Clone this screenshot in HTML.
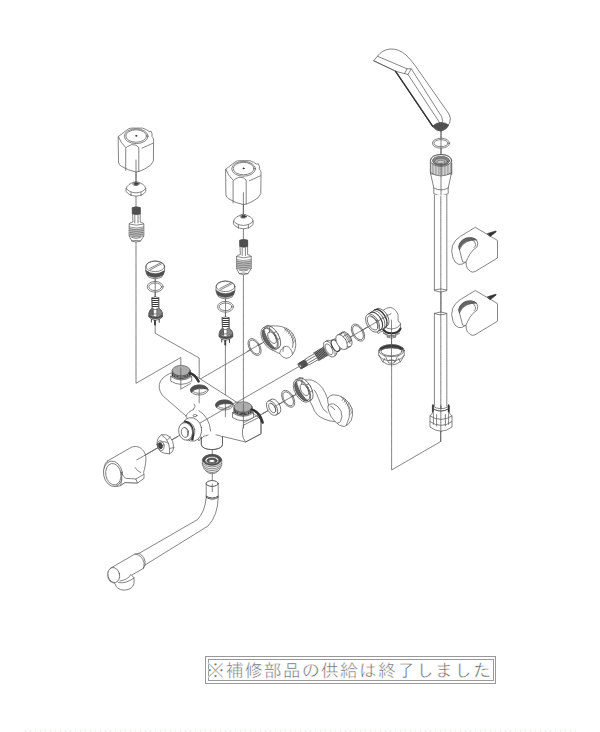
<!DOCTYPE html>
<html lang="ja"><head><meta charset="utf-8"><title>分解図</title>
<style>
html,body{margin:0;padding:0;background:#fff;}
body{width:600px;height:732px;overflow:hidden;position:relative;font-family:"Liberation Sans","IPAGothic","Noto Sans CJK JP",sans-serif;}
svg{position:absolute;left:0;top:0;display:block;}
svg *{vector-effect:none;}
.g path,.g ellipse,.g rect,.g circle,.g line,.g polyline{fill:none;stroke:#555;stroke-width:.72;stroke-linecap:round;stroke-linejoin:round;}
.g .w{fill:#fff;}
.g .d{fill:#444;stroke:#333;}
.g .dk{fill:#505050;stroke:#444;stroke-width:.6;}
.g .gr{fill:#adadad;stroke:#555;}
.g .k{fill:#333;stroke:#333;}
.g .k2{stroke:#333;stroke-width:.9;}
.g .th{stroke:#555;stroke-width:.6;}
.g .th2{stroke:#333;stroke-width:.8;}
.g .ax{stroke:#5a5a5a;stroke-width:.7;stroke-dasharray:1.3 .5;}
.g .thick{stroke:#333;stroke-width:1.6;}
.note{position:absolute;left:205.1px;top:656.4px;width:289px;height:25.85px;border:1px solid #999;box-sizing:content-box;}
.note i{position:absolute;left:1.5px;top:2.1px;right:1.5px;bottom:2.1px;border:1px solid #999;}
.note span{position:absolute;left:.5px;top:1.7px;width:290px;line-height:25px;font-size:18px;color:#666;-webkit-text-stroke:.45px #fff;white-space:nowrap;letter-spacing:1.04px;font-style:normal;}
.foot{display:none}
</style></head><body>
<svg class="g" width="600" height="732" viewBox="0 0 600 732">

<g id="axes">
<path class="ax" d="M136,160 V383.3 L180.8,357.5 V368"/>
<path class="ax" d="M155.2,262 V333.3 L199.2,358 V389"/>
<path class="ax" d="M243.4,192 V404"/>
<path class="ax" d="M225.4,282 V403"/>
<path class="ax" d="M196,381.5 L272,337.5"/>
<path class="ax" d="M136.7,460 L392,313"/>
<path class="ax" d="M256,417.6 L303,390.6"/>
<path class="ax" d="M212.3,438 V484"/>
<path class="ax" d="M391.6,318 V470 L440.6,441.6 V430"/>
<path class="ax" d="M441,126 V432"/>
</g>

<g transform="translate(0,0)">
<path class="w" d="M118.5,136.4 L128.6,128.8 Q130,128.2 132,128.1 L142.5,128.1 Q146.6,129.4 149.2,131.6 L151,131.2 Q152.6,133.6 152,136.6 Q153.6,137.8 153.6,140 L153.4,161 Q152,165.6 144.6,169 Q139.6,171.8 136,172 Q128.6,170.6 121.6,166.4 Q118.5,164.6 118.5,162.4 Z"/>
<ellipse cx="136.2" cy="136.2" rx="11.9" ry="7.4"/>
<ellipse cx="136.2" cy="136" rx="10.4" ry="6.2"/>
<path d="M125.7,170.4 L125.7,148.4 Q126.4,146.6 131.6,144.6 Q136.4,144.2 138.8,147.4 L138.8,171.4"/>
<path d="M118.5,136.8 Q120.4,142.6 125.7,147.6"/>
<path d="M141.9,148.2 L153,143.2"/>
<circle cx="136.2" cy="135.8" r="0.6" class="k"/>
<path class="ax" d="M136,160 V182"/>
</g>
<g transform="translate(0,0)">
<path class="w" d="M126.2,188.4 Q127,183.8 136,181.6 Q145,183.8 145.7,188.4 L145.7,191.6 Q143.6,195.4 136,196.2 Q128.4,195.4 126.2,191.6 Z"/>
<path d="M126.2,188.4 Q128.4,192.2 136,192.9 Q143.6,192.2 145.7,188.4"/>
<path d="M131,192.5 V195.6 M141,192.5 V195.6"/>
<ellipse cx="136" cy="183.8" rx="3.2" ry="1.8" class="w"/>
<ellipse cx="136" cy="183.8" rx="2" ry="1.1" class="d"/>
</g>
<g transform="translate(0,0)">
<path class="w" d="M132.6,207.6 Q136,206.2 140.2,207.6 L140.2,222 Q143.5,222.5 143.8,224 L143.8,236 L140.5,241 Q136,243.2 131.8,241 L129.2,236 L129.2,224 Q129.5,222.5 132.6,222 Z"/>
<path class="dk" d="M132.6,207.6 Q136,206.2 140.2,207.6 L140.2,214 Q136,215.4 132.6,214 Z"/>
<path d="M134.8,215 V223 M138,215 V223"/>
<path d="M129.2,224 Q136,226.5 143.8,224"/>
<path d="M129.4,227.4 Q136,229.8 143.6,227.4 L143.6,235.6 Q136,238 129.4,235.6 Z" style="fill:#c4c4c4;stroke:none"/>
<path class="th" d="M129.2,227 Q136,229 143.8,227 M129.2,228.8 Q136,230.8 143.8,228.8 M129.2,230.6 Q136,232.6 143.8,230.6 M129.2,232.4 Q136,234.4 143.8,232.4 M129.2,234.2 Q136,236.2 143.8,234.2 M129.2,236 Q136,238 143.8,236 "/>
<path d="M131.8,237.5 Q136,239.5 140.5,237.5 M131.8,241 Q136,239.6 140.5,241"/>
</g>
<g transform="translate(107.4,32.6)">
<path class="w" d="M118.5,136.4 L128.6,128.8 Q130,128.2 132,128.1 L142.5,128.1 Q146.6,129.4 149.2,131.6 L151,131.2 Q152.6,133.6 152,136.6 Q153.6,137.8 153.6,140 L153.4,161 Q152,165.6 144.6,169 Q139.6,171.8 136,172 Q128.6,170.6 121.6,166.4 Q118.5,164.6 118.5,162.4 Z"/>
<ellipse cx="136.2" cy="136.2" rx="11.9" ry="7.4"/>
<ellipse cx="136.2" cy="136" rx="10.4" ry="6.2"/>
<path d="M125.7,170.4 L125.7,148.4 Q126.4,146.6 131.6,144.6 Q136.4,144.2 138.8,147.4 L138.8,171.4"/>
<path d="M118.5,136.8 Q120.4,142.6 125.7,147.6"/>
<path d="M141.9,148.2 L153,143.2"/>
<circle cx="136.2" cy="135.8" r="0.6" class="k"/>
<path class="ax" d="M136,160 V182"/>
</g>
<g transform="translate(107.4,32.6)">
<path class="w" d="M126.2,188.4 Q127,183.8 136,181.6 Q145,183.8 145.7,188.4 L145.7,191.6 Q143.6,195.4 136,196.2 Q128.4,195.4 126.2,191.6 Z"/>
<path d="M126.2,188.4 Q128.4,192.2 136,192.9 Q143.6,192.2 145.7,188.4"/>
<path d="M131,192.5 V195.6 M141,192.5 V195.6"/>
<ellipse cx="136" cy="183.8" rx="3.2" ry="1.8" class="w"/>
<ellipse cx="136" cy="183.8" rx="2" ry="1.1" class="d"/>
</g>
<g transform="translate(107.4,32.6)">
<path class="w" d="M132.6,207.6 Q136,206.2 140.2,207.6 L140.2,222 Q143.5,222.5 143.8,224 L143.8,236 L140.5,241 Q136,243.2 131.8,241 L129.2,236 L129.2,224 Q129.5,222.5 132.6,222 Z"/>
<path class="dk" d="M132.6,207.6 Q136,206.2 140.2,207.6 L140.2,214 Q136,215.4 132.6,214 Z"/>
<path d="M134.8,215 V223 M138,215 V223"/>
<path d="M129.2,224 Q136,226.5 143.8,224"/>
<path d="M129.4,227.4 Q136,229.8 143.6,227.4 L143.6,235.6 Q136,238 129.4,235.6 Z" style="fill:#c4c4c4;stroke:none"/>
<path class="th" d="M129.2,227 Q136,229 143.8,227 M129.2,228.8 Q136,230.8 143.8,228.8 M129.2,230.6 Q136,232.6 143.8,230.6 M129.2,232.4 Q136,234.4 143.8,232.4 M129.2,234.2 Q136,236.2 143.8,234.2 M129.2,236 Q136,238 143.8,236 "/>
<path d="M131.8,237.5 Q136,239.5 140.5,237.5 M131.8,241 Q136,239.6 140.5,241"/>
</g>
<g transform="translate(0,0)">
<path class="w" d="M145.8,266.5 Q146.5,262 155,261 Q163.8,262 164.6,266.5 L164.6,270.5 L163,275 Q155,279 147.2,275 L145.8,270.5 Z"/>
<ellipse cx="155.2" cy="266.3" rx="9.4" ry="5.3"/>
<path d="M149.5,268.6 L160.6,262.8 M150.6,269.6 L161.6,263.8"/>
<path class="dk" d="M145.9,270.6 Q155,277 164.5,270.6 L163.2,274.8 Q155,279.2 147.2,274.8 Z"/>
<path d="M148,275.4 Q155,279.6 162.4,275.4 L161.8,277 Q155,280.6 148.6,277 Z" class="w"/>
</g>
<g><ellipse class="w" cx="155.2" cy="286.8" rx="8" ry="5.4"/><ellipse cx="155.2" cy="286.8" rx="6.4" ry="3.8000000000000003"/></g>
<path class="ax" d="M155.2,279 V298"/>
<g transform="translate(0,0)">
<path class="w" d="M152,297.6 Q155.3,296.2 158.8,297.6 L158.8,308 Q161.5,309.5 162.4,313 L162.4,317 Q160,320 155.4,320.4 Q151,320 149,317 L149,313 Q149.5,309.5 152,308 Z"/>
<path class="th2" d="M152,298.5 H158.8 M152,300.5 H158.8 M152,302.5 H158.8 M152,304.5 H158.8 M152,306.5 H158.8 " style="stroke-width:1;stroke:#3a3a3a;stroke-linecap:butt"/>
<path d="M152,297.6 V308 M158.8,297.6 V308"/>
<path class="dk" d="M149.2,312.4 Q150,309.6 152.4,308.4 L153.4,308.6 L153.4,315.4 Q151,315 149.2,314 Z" style="fill:#666"/>
<path class="dk" d="M157,308.6 L158.6,308.4 Q161,309.6 162.2,312.4 L162.2,314 Q160,315.2 157,315.6 Z" style="fill:#888"/>
<path class="dk" d="M149,314.5 Q155.5,319 162.4,314.5 L162.4,316.8 Q155.5,321.4 149,316.8 Z"/>
<rect x="153.6" y="309.5" width="3.2" height="4.4" class="w"/>
<path class="k2" d="M151.4,319.5 V322 M159.2,319.5 V322.4 M155.4,320.4 V325.2 M154.5,320.4 V324.8"/>
</g>
<g transform="translate(70.3,20)">
<path class="w" d="M145.8,266.5 Q146.5,262 155,261 Q163.8,262 164.6,266.5 L164.6,270.5 L163,275 Q155,279 147.2,275 L145.8,270.5 Z"/>
<ellipse cx="155.2" cy="266.3" rx="9.4" ry="5.3"/>
<path d="M149.5,268.6 L160.6,262.8 M150.6,269.6 L161.6,263.8"/>
<path class="dk" d="M145.9,270.6 Q155,277 164.5,270.6 L163.2,274.8 Q155,279.2 147.2,274.8 Z"/>
<path d="M148,275.4 Q155,279.6 162.4,275.4 L161.8,277 Q155,280.6 148.6,277 Z" class="w"/>
</g>
<g><ellipse class="w" cx="225.5" cy="306.8" rx="8" ry="5.4"/><ellipse cx="225.5" cy="306.8" rx="6.4" ry="3.8000000000000003"/></g>
<path class="ax" d="M225.5,299 V318"/>
<g transform="translate(70.3,20)">
<path class="w" d="M152,297.6 Q155.3,296.2 158.8,297.6 L158.8,308 Q161.5,309.5 162.4,313 L162.4,317 Q160,320 155.4,320.4 Q151,320 149,317 L149,313 Q149.5,309.5 152,308 Z"/>
<path class="th2" d="M152,298.5 H158.8 M152,300.5 H158.8 M152,302.5 H158.8 M152,304.5 H158.8 M152,306.5 H158.8 " style="stroke-width:1;stroke:#3a3a3a;stroke-linecap:butt"/>
<path d="M152,297.6 V308 M158.8,297.6 V308"/>
<path class="dk" d="M149.2,312.4 Q150,309.6 152.4,308.4 L153.4,308.6 L153.4,315.4 Q151,315 149.2,314 Z" style="fill:#666"/>
<path class="dk" d="M157,308.6 L158.6,308.4 Q161,309.6 162.2,312.4 L162.2,314 Q160,315.2 157,315.6 Z" style="fill:#888"/>
<path class="dk" d="M149,314.5 Q155.5,319 162.4,314.5 L162.4,316.8 Q155.5,321.4 149,316.8 Z"/>
<rect x="153.6" y="309.5" width="3.2" height="4.4" class="w"/>
<path class="k2" d="M151.4,319.5 V322 M159.2,319.5 V322.4 M155.4,320.4 V325.2 M154.5,320.4 V324.8"/>
</g>
<g id="body">
<path class="w" d="M192,373.6 L236,401.8 L258.8,417.5 Q261,419 261,422.5 L261,433.8 L245.6,442 L222.5,436.4 L222.5,444.6 A10.6,5 0 0 1 201.3,444.6 L201.3,437 L199,441 L186,416 L162.5,395.5 Q157,388 160.5,381 Q165,374.5 173,372.5 Z"/>
<path d="M243.8,425 L258.8,417.5 Q261,419 261,422.5 L261,433.8 L245.6,442 Q240,435 243.8,425 Z"/>
<path d="M243.8,422.6 L257.6,415.4"/>
<path d="M201.3,437 V444.6 A10.6,5 0 0 0 222.5,444.6 V436.4"/>
<path d="M201.3,438.5 Q203,435.6 208,435 M216,434.8 Q221,435.2 222.5,437.2"/>
<path d="M186,416 Q188,411.5 193.8,409.4"/>
<path d="M198.8,410.6 Q209.5,417 210.6,431"/>
<path d="M194,404 Q196.5,406.5 193.5,409"/>
<ellipse cx="195" cy="415.6" rx="1.9" ry="1.1"/>
</g>

<g>
<path class="w" d="M170.7,376.6 L170.7,381.1 Q181.2,387.6 191.7,381.1 L191.7,376.6 Z"/>
<path d="M170.7,376.6 Q181.2,383.6 191.7,376.6"/>
<path class="w" d="M172.2,370.6 L172.2,376.1 Q181.2,382.6 190.2,376.1 L190.2,370.6 Z"/>
<path class="thick" d="M172.2,371.8 Q181.2,378.2 190.2,371.8 M172.2,373.0 Q181.2,379.4 190.2,373.0 M172.2,374.20000000000005 Q181.2,380.6 190.2,374.20000000000005 M172.2,375.40000000000003 Q181.2,381.8 190.2,375.40000000000003 " style="stroke-width:1"/>
<ellipse class="gr" cx="181.2" cy="370.6" rx="9" ry="5.2"/>
</g>
<path class="thick" d="M189.6,373 Q195,374.5 198.6,381.4" style="stroke-width:2.5"/>
<g>
<ellipse class="w" cx="199.3" cy="390" rx="8.8" ry="5"/>
<path class="dk" d="M190.5,390.6 A8.8,5 0 0 1 208.10000000000002,389.4 Q204.9,388.4 198.70000000000002,388.8 Q192.9,389.4 191.70000000000002,392.4 Z"/>
<path d="M192.3,391.2 Q199.3,395.8 206.3,391.2"/>
</g>
<g>
<ellipse class="w" cx="224.4" cy="405" rx="8.8" ry="5"/>
<path class="dk" d="M215.6,405.6 A8.8,5 0 0 1 233.20000000000002,404.4 Q230.0,403.4 223.8,403.8 Q218.0,404.4 216.8,407.4 Z"/>
<path d="M217.4,406.2 Q224.4,410.8 231.4,406.2"/>
</g>
<g>
<path class="w" d="M232.5,413 L232.5,417.5 Q243,424 253.5,417.5 L253.5,413 Z"/>
<path d="M232.5,413 Q243,420 253.5,413"/>
<path class="w" d="M234,407 L234,412.5 Q243,419 252,412.5 L252,407 Z"/>
<path class="thick" d="M234,408.2 Q243,414.59999999999997 252,408.2 M234,409.4 Q243,415.79999999999995 252,409.4 M234,410.6 Q243,417.0 252,410.6 M234,411.8 Q243,418.2 252,411.8 " style="stroke-width:1"/>
<ellipse class="gr" cx="243" cy="407" rx="9" ry="5.2"/>
</g>
<path class="thick" d="M251.6,409.6 Q259.5,411.5 262.6,422.5" style="stroke-width:2.6"/>
<path class="ax" d="M199.2,389 V403 M225.4,403 V417 M243.4,404 V428 M180.8,368 V389 M199,423.6 L236,402.3"/>
<path class="ax" d="M181,389 L190.5,383.6"/>

<g id="frontport">
<ellipse class="w" cx="191.8" cy="429.4" rx="9.8" ry="11.9" transform="rotate(-12 191.8 429.4)"/>
<ellipse class="w" cx="187.2" cy="430.8" rx="7.6" ry="9.4" transform="rotate(-12 187.2 430.8)"/>
<path class="thick" d="M185.2,421.6 Q194.5,424 192.4,439.4" style="stroke-width:2.4"/>
<ellipse class="w" cx="185.6" cy="431.4" rx="6.9" ry="8.8" transform="rotate(-12 185.6 431.4)"/>
<ellipse cx="185" cy="432.4" rx="3.6" ry="5" transform="rotate(-12 185 432.4)"/>
<path d="M185,427.6 Q188.6,429 187.4,436"/>
</g>
<path class="ax" d="M178,436.4 L166,443.3"/>

<g id="nutL">
<path class="w" d="M157,444.5 Q156.6,438 161.5,434.8 Q166,433.6 170,437 Q173.6,441 173.8,447.5 Q173.4,452.4 169.5,453.8 Q164,454 160.5,451.5 Q157.6,449 157,444.5 Z"/>
<path d="M161.5,434.8 Q166.5,437.5 168.6,443.5 Q170,449.5 169.5,453.8"/>
<path d="M157,444.5 Q160.5,441 164.6,441.6 Q167.6,442.6 168.6,443.5"/>
<path d="M170,437 L167.5,440 M173.8,447.5 L169.8,448.5"/>
<ellipse cx="160.8" cy="445.6" rx="3.3" ry="5" transform="rotate(-12 160.8 445.6)"/><ellipse class="d" cx="160.4" cy="445.8" rx="1.9" ry="3" transform="rotate(-12 160.4 445.8)"/>
</g>

<g id="lever">
<path class="w" d="M107.5,461 L130.8,447.6 C138.6,443.6 146.8,451 145.9,460 C145.4,465 144.6,469 143.6,472.4 L144,474 L144,478.4 L137.5,483 L125,482.5 L120,485.8 Q114,488 108.5,482.5 Q103,474.5 104.2,467 Q105,462.5 107.5,461 Z"/>
<ellipse class="w" cx="113" cy="473.8" rx="9.4" ry="12.8" transform="rotate(-10 113 473.8)"/>
<ellipse cx="113.4" cy="474.2" rx="7.6" ry="10.8" transform="rotate(-10 113.4 474.2)"/>
<path class="w" d="M121.6,473 Q123,476.6 125.8,478.3 L135.8,479 L137.5,483 L125,482.5 L120.6,485.4 Q122.6,480 121.6,473 Z"/>
<path d="M135,467.5 Q137,471 140.8,472.6"/>
<path d="M135.8,479 L143.4,474.6"/>
<path class="ax" d="M136.7,460 L158,447.7"/>
</g>

<g id="aerator">
<path class="w" d="M202.4,460 Q203,455 212,454.3 Q221,455 221.8,460 L221.8,464.5 Q220.5,469 218.6,470.6 Q216,473.6 212,473.8 Q208,473.6 205.6,470.6 Q203.4,469 202.4,464.5 Z"/>
<ellipse cx="212" cy="460" rx="9.4" ry="5.4" class="dk"/>
<ellipse cx="212" cy="460.4" rx="7" ry="3.8" class="w"/>
<ellipse cx="212" cy="460.8" rx="5.2" ry="2.8" class="dk"/>
<ellipse cx="212" cy="461" rx="3.2" ry="1.6" class="w"/>
<path d="M202.6,463.6 Q212,470.6 221.6,463.6 M203,465.6 Q212,472.4 221.2,465.6 M204.4,468 Q212,473.6 219.8,468 M205.8,470.6 Q212,474.6 218.4,470.6"/>
</g>

<g id="spout">
<path class="w" d="M206.2,483.5 L206.2,497.6 Q205,511.6 197.5,519.6 L139,553.4 L135,554 L110.8,568 Q106.8,572 108,578 Q109.5,582 112.6,582.6 L115,583.4 Q116,589.5 124,590.2 Q133,589.5 134,583.2 L134,577.8 L131.6,575.2 L143.4,568.4 L145,565 L208,526 Q217.8,515.6 218.2,497.6 L218.2,483.5 Q212.2,487.4 206.2,483.5 Z"/>
<ellipse class="w" cx="212.2" cy="483.5" rx="6" ry="2.9" style="stroke:#444;stroke-width:.9"/>
<path d="M206.2,496.2 Q212.2,500 218.2,496.2 M206.2,497.4 Q212.2,501.2 218.2,497.4" style="stroke:#444;stroke-width:.9"/>
<path d="M135,554 Q142,555 144,562.5 Q144.4,566 143.4,568.4"/>
<path d="M139,553.4 Q145.6,556 145.2,565"/>
<ellipse class="w" cx="113.8" cy="575" rx="5.8" ry="7.6" transform="rotate(-14 113.8 575)"/>
<path d="M120,581 Q128,580 131,574.4"/>
<path d="M118.6,582.6 Q126,584 134,578"/>
<path class="ax" d="M212.3,484 V491.6"/>
</g>

<g id="elbowU">
<path class="w" d="M272,325.8 L277.5,326 Q286.6,326.6 292.4,333 Q296.4,338.6 295.8,345.4 Q295.2,351 292.6,354.4 Q290,358.4 286,358.4 Q282,357.4 279.6,353.6 L272,350 Z"/>
<path d="M279.6,353.6 Q280.6,347.4 286.4,346.2 Q291.6,347.4 292.6,354.4"/>
<path d="M283.8,346.8 Q282.6,349 283,351.4"/>
<path class="th" d="M286.6,328 l-1.6,3 M288.4,329.2 l-1.6,3 M290,330.8 l-1.7,3.1 M291.6,332.6 l-1.8,3.2 M293,334.8 l-1.8,3.2 M294.2,337.2 l-1.8,3.2 M295,340 l-1.8,3.2"/>
<path d="M284.4,328.6 Q290.6,332 292.6,338.6 Q293.6,343 292.6,347.4"/>
</g>

<g transform="rotate(-30 269.6 338.6)">
<path class="w" d="M269.6,326.0 L273.6,326.0 Q278.20000000000005,329.6 279.0,338.6 Q278.20000000000005,347.6 273.6,351.20000000000005 L269.6,351.20000000000005 Z"/>
<ellipse class="w" cx="273.0" cy="338.6" rx="6.2" ry="12.4"/>
<ellipse class="w" cx="269.6" cy="338.6" rx="7" ry="12.6"/>
<ellipse cx="270.0" cy="338.6" rx="5.9" ry="11.2"/>
<path class="dk" d="M270.0,327.40000000000003 A5.9,11.2 0 0 0 270.0,349.8 A2.4,11.2 0 0 1 270.0,327.40000000000003 Z" style="fill:#6c6c6c"/>
<path class="th" d="M266.40000000000003,329.8 l2.6,0.5 M265.90000000000003,332.0 l2.6,0.5 M265.40000000000003,334.2 l2.6,0.5 M264.90000000000003,336.40000000000003 l2.6,0.5 M264.40000000000003,338.6 l2.6,0.5 M264.90000000000003,340.8 l2.6,0.5 M265.40000000000003,343.0 l2.6,0.5 M265.90000000000003,345.2 l2.6,0.5 M266.40000000000003,347.40000000000003 l2.6,0.5 "/>
<ellipse cx="272.20000000000005" cy="339.0" rx="3.4" ry="6.4"/>
<path d="M272.6,333.0 L275.20000000000005,329.0 M275.0,341.6 L276.20000000000005,342.0"/>
<path d="M274.0,326.6 L277.0,328.20000000000005 M276.6,335.6 L279.0,336.0 M276.6,343.6 L278.6,343.6"/>
</g>
<g transform="rotate(-30 254.6 347)"><ellipse class="w" cx="254.6" cy="347" rx="5.4" ry="9.3"/><ellipse cx="254.6" cy="347" rx="4.28" ry="7.700000000000001"/></g>
<path class="ax" d="M247,351.6 L262.5,342.7"/>
<g id="spipe">
<path class="w" d="M303,379.8 L311.9,380 Q317.5,381.6 322.5,388.1 Q325.4,392.6 327.6,398.6 Q329,395.6 333,394.8 Q338.6,394.4 343.8,398.1 Q349.6,402 352.2,408.8 Q353.4,414.6 351.4,420 Q348.6,425.6 344,426.6 Q339.6,426.4 335,421.6 Q330,421.4 325,419.4 Q320.6,417.6 317.5,415 Q314,411.4 312.4,406 L309.4,400 Z"/>
<path d="M314.4,390 Q317,393.6 318.6,398.6 Q320.6,404.6 323,408.4 Q325,411.4 327.2,412.6"/>
<path d="M328,406 Q329,403.4 333.6,403.8 Q338.6,406 341,411 Q343,417 340.6,421.4 Q339.4,423 337.6,423"/>
<path d="M335,421.6 Q330.4,417 328.6,411 Q327.8,408 328,406"/>
<path d="M330.6,406.2 Q333.4,407 334.6,409.6"/>
<path d="M327.6,398.6 Q327.4,402 328.6,405"/>
<path class="th" d="M343.6,398 l-1.4,2.6 M345.6,399.4 l-1.5,2.8 M347.4,401.2 l-1.6,3 M349,403.2 l-1.6,3 M350.4,405.6 l-1.7,3.2 M351.4,408.4 l-1.7,3.2 M352,411.4 l-1.6,3"/>
<path d="M341,396.6 Q347.4,401.6 349.4,409.4 Q350.6,417.4 346.6,424.6"/>
</g>

<g transform="rotate(-30 302 390.8)">
<path class="w" d="M302,378.2 L306,378.2 Q310.6,381.8 311.4,390.8 Q310.6,399.8 306,403.40000000000003 L302,403.40000000000003 Z"/>
<ellipse class="w" cx="305.4" cy="390.8" rx="6.2" ry="12.4"/>
<ellipse class="w" cx="302" cy="390.8" rx="7" ry="12.6"/>
<ellipse cx="302.4" cy="390.8" rx="5.9" ry="11.2"/>
<path class="dk" d="M302.4,379.6 A5.9,11.2 0 0 0 302.4,402.0 A2.4,11.2 0 0 1 302.4,379.6 Z" style="fill:#6c6c6c"/>
<path class="th" d="M298.8,382.0 l2.6,0.5 M298.3,384.2 l2.6,0.5 M297.8,386.4 l2.6,0.5 M297.3,388.6 l2.6,0.5 M296.8,390.8 l2.6,0.5 M297.3,393.0 l2.6,0.5 M297.8,395.2 l2.6,0.5 M298.3,397.4 l2.6,0.5 M298.8,399.6 l2.6,0.5 "/>
<ellipse cx="304.6" cy="391.2" rx="3.4" ry="6.4"/>
<path d="M305,385.2 L307.6,381.2 M307.4,393.8 L308.6,394.2"/>
<path d="M306.4,378.8 L309.4,380.40000000000003 M309,387.8 L311.4,388.2 M309,395.8 L311,395.8"/>
</g>
<g transform="rotate(-30 288.2 398.8)"><ellipse class="w" cx="288.2" cy="398.8" rx="5.4" ry="9.3"/><ellipse cx="288.2" cy="398.8" rx="4.28" ry="7.700000000000001"/></g>
<g transform="rotate(-30 273.3 407.4)">
<path class="w" d="M271.90000000000003,399.4 H275.5 V415.4 H271.90000000000003 Z" style="stroke:none"/>
<ellipse class="w" cx="275.5" cy="407.4" rx="4.6" ry="8"/>
<path d="M271.90000000000003,399.4 H275.5 M271.90000000000003,415.4 H275.5"/>
<ellipse class="w" cx="271.90000000000003" cy="407.4" rx="4.6" ry="8"/>
<ellipse cx="272.1" cy="407.4" rx="2.9" ry="5.2"/>
<path d="M273.5,411.79999999999995 A2.9,5.2 0 0 0 273.5,402.79999999999995"/>
</g>
<path class="ax" d="M262,413.9 L268,410.5"/>
<path class="ax" d="M277,405.2 L296,394.3"/>
<g id="dspindle" transform="rotate(-30 299.6 366.3)">
<path class="w" d="M299.6,363.3 H308.1 V362.8 H318.6 V361.8 H331.6 V370.8 H318.6 V369.8 H308.1 V369.3 H299.6 Z"/>
<rect class="dk" x="299.6" y="363.3" width="8" height="6" rx="1.4"/>
<ellipse cx="300.40000000000003" cy="366.3" rx="0.9" ry="1.6" class="w"/>
<path d="M308.1,365.1 H318.6 M308.1,367.7 H318.6"/>
<rect x="318.6" y="361.8" width="13" height="9" style="fill:#999;stroke:none"/><path class="th2" d="M319.1,361.8 l0.8,9 M320.5,361.8 l0.8,9 M321.90000000000003,361.8 l0.8,9 M323.3,361.8 l0.8,9 M324.70000000000005,361.8 l0.8,9 M326.1,361.8 l0.8,9 M327.5,361.8 l0.8,9 M328.90000000000003,361.8 l0.8,9 M330.3,361.8 l0.8,9 " style="stroke-width:.8"/>
<ellipse class="w" cx="337.20000000000005" cy="366.3" rx="4" ry="7.4"/>
<ellipse class="w" cx="335.8" cy="366.3" rx="4.5" ry="8.8"/>
<ellipse class="w" cx="334.0" cy="366.3" rx="4.5" ry="8.8"/>
<ellipse cx="333.6" cy="366.3" rx="3" ry="6"/>
<path class="w" d="M337.6,359.90000000000003 H342.6 V372.7 H337.6 Z" style="stroke:none"/>
<ellipse class="w" cx="343.0" cy="366.3" rx="3.4" ry="6.4"/>
<ellipse class="w" cx="341.0" cy="366.3" rx="3.4" ry="6.4" style="stroke-width:1.3;stroke:#333"/>
<path class="w" d="M348.1,358.1 H353.6 V374.5 H348.1 Z" style="stroke:none"/>
<ellipse class="w" cx="353.6" cy="366.3" rx="4.7" ry="8.2"/>
<path d="M348.1,358.1 H353.6 M348.1,374.5 H353.6"/>
<ellipse class="w" cx="348.1" cy="366.3" rx="4.7" ry="8.2"/>
<path d="M352.20000000000005,362.3 H357.6 M352.40000000000003,369.5 H357.8 M350.20000000000005,358.90000000000003 H355.6"/>
<path class="th" d="M354.6,359.7 v12 M356.0,360.90000000000003 v10 M357.20000000000005,362.7 v7"/>
</g>

<g transform="rotate(-30 358 332.6)"><ellipse class="w" cx="358" cy="332.6" rx="5.5" ry="9.4"/><ellipse cx="358" cy="332.6" rx="4.38" ry="7.800000000000001"/></g>
<path class="ax" d="M351,336.7 L365.5,328.3"/>
<g id="elbowR">
<path class="w" d="M383.6,310 Q386.6,307.6 390.4,307.4 Q395.6,308.4 398,314.6 L398.2,321.4 Q400.6,322.4 400.6,324 L400.6,330 Q399,333.6 395.6,334.4 L395.6,337 Q391.4,339.4 387.2,337 L387.2,334.6 Q383.4,333.6 382.4,331 L378,333.6 L371,321 Z"/>
<path d="M382.4,324 Q384,328.4 391.4,329 Q398.6,328.4 400.6,324"/>
<path class="thick" d="M382.6,328.4 Q385,333 391.6,333.4 Q398.4,333 400.4,328.6" style="stroke-width:2.2"/>
<path d="M383.4,333.4 Q386.4,335.6 391.6,335.8 Q396.6,335.6 399.6,333.4"/>
<path d="M387.2,337 Q391.4,334.8 395.6,337"/>
<path class="ax" d="M391.5,320 V338"/>
</g>
<g transform="rotate(-30 372.6 323)">
<path class="w" d="M372.6,313 H386 V333 H372.6 Z" style="stroke:none"/>
<path d="M372.6,313 H385 M372.6,333 H381"/>
<ellipse class="w" cx="383.4" cy="323" rx="5.8" ry="10"/>
<ellipse class="w" cx="381" cy="323" rx="5.8" ry="10.4" style="stroke-width:1.3;stroke:#333"/>
<ellipse class="w" cx="378.6" cy="323" rx="5.8" ry="10.4"/>
<ellipse class="w" cx="376" cy="323" rx="5.8" ry="10" style="stroke-width:1.1;stroke:#444"/>
<ellipse class="w" cx="372.6" cy="323" rx="5.8" ry="10"/>
<ellipse cx="372.8" cy="323" rx="4.4" ry="7.8"/>
<path d="M374.4,330 A4.4,7.8 0 0 0 374.4,316.4"/>
</g>

<path class="ax" d="M365.5,328.3 L391,313.6"/>
<g id="nutR">
<path class="w" d="M378.8,350.6 A12.7,6 0 0 1 404.2,350.6 L404.2,355.4 L400.6,361.6 Q396,365 391.5,365 Q387,365 382.6,361.6 L378.8,355.4 Z"/>
<ellipse cx="391.5" cy="350.6" rx="12.7" ry="6"/>
<path class="dk" d="M379.6,350.4 Q383,345.4 391.5,345.2 Q400,345.4 403.4,350.4 Q398,347.9 391.5,348 Q385,347.9 379.6,350.4 Z"/><path class="thick" d="M380.6,348.6 Q385,345.8 391.5,345.8 Q398,345.8 402.4,348.6" style="stroke-width:1.5"/>
<ellipse cx="391.5" cy="351.4" rx="10.4" ry="4.4"/>
<path d="M378.8,355.4 Q381.6,359.8 387.4,360.6 L395.6,360.6 Q401.6,359.8 404.2,355.4"/>
<path d="M387.4,360.4 Q386.4,357 384.4,355.6 M395.6,360.4 Q396.6,357 398.6,355.6"/>
<path d="M383,362 L384.6,358.6 M400.4,362 L398.6,358.6"/>
<ellipse cx="391.5" cy="361.6" rx="3.6" ry="1.8"/>
<path class="ax" d="M391.5,338 V366"/>
</g>

<g id="shower">
<path class="w" d="M373.8,60.6 L377.5,56.2 Q382,50 390,49 Q399,48.6 406,55 Q411,60 415,65.4 L449,114 Q451.6,118.6 449.6,123 Q447,128 441,131 Q436,131 432.6,126.6 L395.6,71.3 Z"/>
<path d="M377.5,56.2 L407,68.8 L411.3,68.8 L408,74.5 L395.6,71.3 L373.8,60.6"/>
<path d="M407,68.8 L404.6,73.6"/>
<path d="M411.3,68.8 L441.6,116.6 Q444,121 441.4,124.6"/>
<path d="M408,74.5 L439.6,122.6"/>
<path class="thick" d="M395.6,71.3 L432.8,126.4" style="stroke-width:1.5"/>
<path class="dk" d="M432.8,126 Q436,122.6 441,122.4 Q446,122.6 448.6,125 Q447,129.6 441,131 Q435.6,130.6 432.8,126 Z"/>
<path d="M436,128.4 Q441,131.4 446.4,128"/>
</g>

<g><ellipse class="w" cx="441" cy="143.2" rx="8.6" ry="5"/><ellipse cx="441" cy="143.2" rx="7.1" ry="3.5"/></g>
<path class="ax" d="M441,131 V155"/>
<g id="hosenutT">
<path class="w" d="M430.4,160.4 Q431,155 441,154.4 Q451,155 451.6,160.4 L451.6,172.6 L448.2,188 L448.2,193.6 Q441,197.6 433.8,193.6 L433.8,188 L430.4,172.6 Z"/>
<ellipse cx="441" cy="160.4" rx="10.6" ry="6"/>
<ellipse cx="441" cy="160.8" rx="8.6" ry="4.6" class="dk" style="fill:#8a8a8a"/>
<ellipse cx="441" cy="161.4" rx="6.4" ry="3.2" style="fill:#a8a8a8;stroke:#555;stroke-width:.6"/>
<ellipse cx="441" cy="162" rx="3.6" ry="1.7" style="fill:#c8c8c8;stroke:#666;stroke-width:.5"/>
<path class="th" d="M430.8,163.4 v11 M432.3,163.5 v11 M433.8,163.6 v11 M435.3,163.7 v11 M436.8,163.8 v11 M438.3,163.9 v11 M439.8,164.0 v11 M441.3,164.1 v11 M442.8,164.0 v11 M444.3,163.9 v11 M445.8,163.8 v11 M447.3,163.7 v11 M448.8,163.6 v11 M450.3,163.5 v11 M451.8,163.4 v11 "/>
<path d="M430.4,172.6 Q441,179.6 451.6,172.6"/>
<path d="M433.8,188 Q441,192 448.2,188"/>
<path class="ax" d="M441,163 V196"/>
</g>

<g id="hose">
<path class="w" d="M434.4,195 V290.6 Q440.6,293.6 446.8,290.6 V195" />
<path d="M434.4,290 Q440.6,287.6 446.8,290"/>
<path class="w" d="M434.4,406 V313.4 Q440.6,310.6 446.8,313.4 V406"/>
<path d="M434.4,313.4 Q440.6,316.4 446.8,313.4"/>
<path class="ax" d="M440.8,196 V430"/>
</g>

<g id="hosenutB">
<path class="w" d="M432.4,406 L432.4,413 L430,416 L430,427 Q441,435.4 452,427 L452,416 L449.4,413 L449.4,406 Q441,411.6 432.4,406 Z"/>
<path class="thick" d="M433,405 V411.6 M448.6,405 V411.6" style="stroke-width:1.6"/>
<path class="k2" d="M433.6,409 Q441,413.4 448.2,409"/>
<path d="M430,416 Q441,423 452,416"/>
<path d="M430,421.6 Q441,429.4 452,421.6"/>
<path d="M433.4,412.6 V424.4 M436.6,414.4 V426 M445.4,414.4 V426 M448.6,412.6 V424.4"/>
<path class="ax" d="M440.8,405 V441.6"/>
</g>

<g transform="translate(0,0)">
<path class="w" d="M475.6,227.5 L496.9,240 Q497.6,240.6 497.5,242 L497.5,258 L475,271.6 Q472.6,272.8 470.4,271.4 L467.4,268.6 Q466,266 466,262 Q462,265 458.6,264.4 Q454.6,263 453,258 Q450.6,251 452.6,245.4 Q455,239.6 460,236.6 Z"/>
<path class="w" d="M458.8,246.4 Q459.6,240.6 466,238.2 Q473,236.6 476.6,240 Q478.8,243 477,247 Q472.6,249.6 470,254 Q467,259 466,262 Q465,262.6 463,262 Z"/>
<path class="dk" d="M458.8,246.4 Q459.6,240.6 466,238.2 Q473,236.6 476.6,240 Q472,239.6 467,241.6 Q461.6,244 459.6,249.6 Z" style="fill:#666"/>
<path d="M471.6,239.4 Q475.4,241 475.6,244.6 Q475.4,246.6 474,247.6"/>
<path class="k" d="M487.6,233.6 L495.8,231 L496.2,231.8 L490.2,236.4 Z"/>
</g>
<g transform="translate(0,63.2)">
<path class="w" d="M475.6,227.5 L496.9,240 Q497.6,240.6 497.5,242 L497.5,258 L475,271.6 Q472.6,272.8 470.4,271.4 L467.4,268.6 Q466,266 466,262 Q462,265 458.6,264.4 Q454.6,263 453,258 Q450.6,251 452.6,245.4 Q455,239.6 460,236.6 Z"/>
<path class="w" d="M458.8,246.4 Q459.6,240.6 466,238.2 Q473,236.6 476.6,240 Q478.8,243 477,247 Q472.6,249.6 470,254 Q467,259 466,262 Q465,262.6 463,262 Z"/>
<path class="dk" d="M458.8,246.4 Q459.6,240.6 466,238.2 Q473,236.6 476.6,240 Q472,239.6 467,241.6 Q461.6,244 459.6,249.6 Z" style="fill:#666"/>
<path d="M471.6,239.4 Q475.4,241 475.6,244.6 Q475.4,246.6 474,247.6"/>
<path class="k" d="M487.6,233.6 L495.8,231 L496.2,231.8 L490.2,236.4 Z"/>
</g>
<path d="M25,730.8 H576" style="stroke:#cdeccd;stroke-width:1;stroke-dasharray:1.2 3.8;stroke-linecap:butt"/>
</svg>

<div class="note"><i></i><span>※補修部品の供給は終了しました</span></div>
</body></html>
